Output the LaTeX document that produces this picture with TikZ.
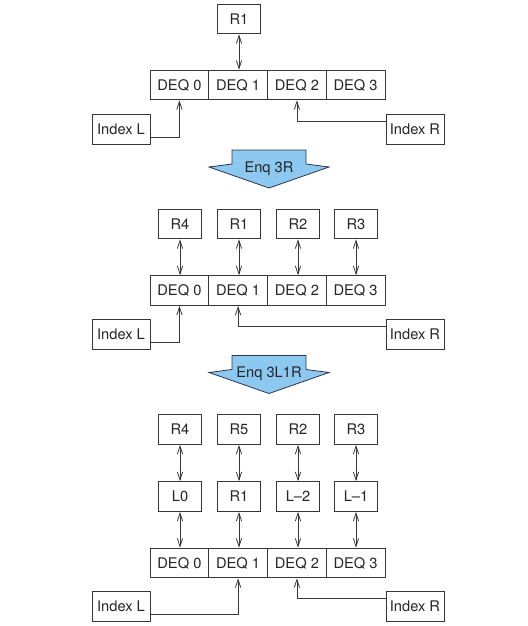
\documentclass[tikz,border=0pt]{standalone}
\usepackage{fontspec}
\setmainfont{TeX Gyre Heros}
\usetikzlibrary{arrows.meta}
\definecolor{enqblue}{RGB}{140,200,240}
\definecolor{edgecol}{RGB}{55,55,55}
\definecolor{enqedge}{RGB}{45,55,75}
\begin{document}
\begin{tikzpicture}[x=0.75pt,y=-0.75pt,
  box/.style={draw=edgecol, line width=0.7pt, fill=white, inner sep=0pt,
    minimum width=32.6pt, minimum height=22.3pt,
    font=\fontsize{11}{13}\selectfont, text=black!85},
  cell/.style={box, minimum width=44.06pt},
  idx/.style={box, minimum width=43.5pt, minimum height=22.5pt},
  link/.style={draw=edgecol, line width=0.6pt, {Straight Barb[length=6pt,width=4pt]}-{Straight Barb[length=6pt,width=4pt]}},
  ptr/.style={draw=edgecol, line width=0.6pt, -{Straight Barb[length=6pt,width=4pt]}},
  enq/.style={draw=enqedge, fill=enqblue, line width=0.6pt},
  enqtext/.style={anchor=base, font=\fontsize{11}{13}\selectfont, text=black!85}
]
\useasboundingbox (0,0) rectangle (528,626);

% ---------------- Section 1 ----------------
\node[box] (a_r1) at (239,19) {R1};
\node[cell] (a_d0) at (179.4,85) {DEQ 0};
\node[cell] (a_d1) at (238.1,85) {DEQ 1};
\node[cell] (a_d2) at (296.9,85) {DEQ 2};
\node[cell] (a_d3) at (355.6,85) {DEQ 3};
\node[idx] (a_il) at (121,129) {Index L};
\node[idx] (a_ir) at (415,129) {Index R};
\draw[link] (a_r1.south) -- (a_r1.south |- a_d1.north);
\draw[ptr] ([yshift=5.6pt]a_il.south east) -| (a_d0.south);
\draw[ptr] ([yshift=-5.6pt]a_ir.north west) -| (a_d2.south);

\draw[enq] (232,150) -- (306,150) -- (306,164) -- (329,167) -- (269,188)
  -- (209,167) -- (232,164) -- cycle;
\node[enqtext] (enq1) at (269,172) {Enq 3R};

% ---------------- Section 2 ----------------
\node[box] (b_r4) at (180,224) {R4};
\node[box] (b_r1) at (239,224) {R1};
\node[box] (b_r2) at (298,224) {R2};
\node[box] (b_r3) at (356,224) {R3};
\node[cell] (b_d0) at (179.4,290.5) {DEQ 0};
\node[cell] (b_d1) at (238.1,290.5) {DEQ 1};
\node[cell] (b_d2) at (296.9,290.5) {DEQ 2};
\node[cell] (b_d3) at (355.6,290.5) {DEQ 3};
\node[idx] (b_il) at (121,334) {Index L};
\node[idx] (b_ir) at (415,334) {Index R};
\draw[link] (b_r4.south) -- (b_r4.south |- b_d0.north);
\draw[link] (b_r1.south) -- (b_r1.south |- b_d1.north);
\draw[link] (b_r2.south) -- (b_r2.south |- b_d2.north);
\draw[link] (b_r3.south) -- (b_r3.south |- b_d3.north);
\draw[ptr] ([yshift=5.6pt]b_il.south east) -| (b_d0.south);
\draw[ptr] ([yshift=-5.6pt]b_ir.north west) -| (b_d1.south);

\draw[enq] (232,355.5) -- (306,355.5) -- (306,369.5) -- (329,372.5) -- (269,393.5)
  -- (209,372.5) -- (232,369.5) -- cycle;
\node[enqtext] (enq2) at (269,377.5) {Enq 3L1R};

% ---------------- Section 3 ----------------
\node[box] (c_r4) at (180,429.5) {R4};
\node[box] (c_r5) at (239,429.5) {R5};
\node[box] (c_r2) at (298,429.5) {R2};
\node[box] (c_r3) at (356,429.5) {R3};
\node[box] (c_l0) at (180,496.5) {L0};
\node[box] (c_r1) at (239,496.5) {R1};
\node[box] (c_lm2) at (298,496.5) {L\textendash 2};
\node[box] (c_lm1) at (356,496.5) {L\textendash 1};
\node[cell] (c_d0) at (179.4,563) {DEQ 0};
\node[cell] (c_d1) at (238.1,563) {DEQ 1};
\node[cell] (c_d2) at (296.9,563) {DEQ 2};
\node[cell] (c_d3) at (355.6,563) {DEQ 3};
\node[idx] (c_il) at (121,606.7) {Index L};
\node[idx] (c_ir) at (415,606.7) {Index R};
\draw[link] (c_r4.south) -- (c_l0.north);
\draw[link] (c_r5.south) -- (c_r1.north);
\draw[link] (c_r2.south) -- (c_lm2.north);
\draw[link] (c_r3.south) -- (c_lm1.north);
\draw[link] (c_l0.south) -- (c_l0.south |- c_d0.north);
\draw[link] (c_r1.south) -- (c_r1.south |- c_d1.north);
\draw[link] (c_lm2.south) -- (c_lm2.south |- c_d2.north);
\draw[link] (c_lm1.south) -- (c_lm1.south |- c_d3.north);
\draw[ptr] ([yshift=5.6pt]c_il.south east) -| (c_d1.south);
\draw[ptr] ([yshift=-5.6pt]c_ir.north west) -| (c_d2.south);
\end{tikzpicture}
\end{document}
